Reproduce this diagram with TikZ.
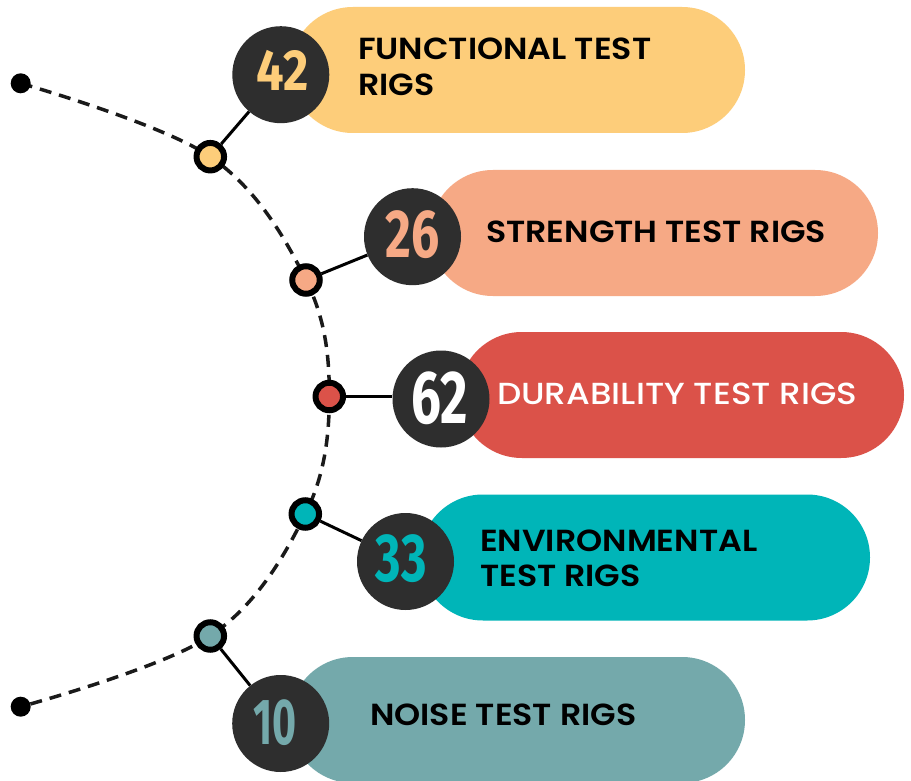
\documentclass[tikz,border=0pt]{standalone}
\usepackage{fontspec}
\newfontfamily\labf[FakeStretch=1.09]{Poppins SemiBold}
\newfontfamily\labm[FakeStretch=1.12]{Poppins Medium}
\newfontfamily\numf[FakeStretch=0.68]{Fira Sans}
\definecolor{cyel}{HTML}{FDCD7A}
\definecolor{csal}{HTML}{F6A985}
\definecolor{cred}{HTML}{DB5249}
\definecolor{cteal}{HTML}{00B5B8}
\definecolor{cnoise}{HTML}{74A9AB}
\definecolor{cdark}{HTML}{2E2E2E}
\definecolor{cline}{HTML}{1A1A1A}
\tikzset{
  pill/.style={rectangle, draw=none, inner sep=0pt, minimum width=455pt, minimum height=126pt, rounded corners=62.9pt},
  numcirc/.style={circle, fill=cdark, draw=none, inner sep=0pt, minimum size=97pt, text depth=0pt},
  marker/.style={circle, draw=black, line width=6pt, inner sep=0pt, minimum size=27.5pt},
  enddot/.style={circle, fill=black, draw=none, inner sep=0pt, minimum size=20pt},
  link/.style={draw=black, line width=3pt},
  arcline/.style={draw=cline, line width=3.5pt, dash pattern=on 12pt off 8pt},
  lab/.style={anchor=base west, inner sep=0pt, align=left, font=\labf\fontsize{30.5}{35.7}\selectfont},
  num/.style={inner sep=0pt},
}
\begin{document}
\begin{tikzpicture}[x=1pt,y=-1pt]
\useasboundingbox[fill=white] (0,0) rectangle (911,781);
% pills
\node[pill, fill=cyel]   (p1) at (517.5,70)  {};
\node[pill, fill=csal, minimum width=448pt]   (p2) at (654,233)  {};
\node[pill, fill=cred, minimum width=445pt]   (p3) at (681.5,395) {};
\node[pill, fill=cteal, minimum width=450pt]  (p4) at (645,557.5) {};
\node[pill, fill=cnoise] (p5) at (517.5,720) {};
% positions
\coordinate (s1) at (20.7,83.3);
\coordinate (a1) at (210.3,156.7);
\coordinate (a2) at (306,280);
\coordinate (a3) at (329.3,396.5);
\coordinate (a4) at (305.3,514);
\coordinate (a5) at (210.3,636);
\coordinate (s2) at (20.7,706.7);
% dashed arc
\draw[arcline] plot[smooth, tension=0.6] coordinates {(s1) (a1) (a2) (a3) (a4) (a5) (s2)};
% number circles
\node[numcirc] (c1) at (280.8,74.7) {};
\node[numcirc] (c2) at (412.5,236.7) {};
\node[numcirc] (c3) at (441,399) {};
\node[numcirc] (c4) at (405.5,561.5) {};
\node[numcirc] (c5) at (280.7,723.5) {};
% markers
\node[enddot] (d1) at (s1) {};
\node[enddot] (d2) at (s2) {};
\node[marker, fill=cyel]   (m1) at (a1) {};
\node[marker, fill=csal]   (m2) at (a2) {};
\node[marker, fill=cred]   (m3) at (a3) {};
\node[marker, fill=cteal]  (m4) at (a4) {};
\node[marker, fill=cnoise] (m5) at (a5) {};
% links
\draw[link] (m1) -- (c1);
\draw[link] (m2) -- (c2);
\draw[link] (m3) -- (c3.west |- m3);
\draw[link] (m4) -- (c4);
\draw[link] (m5) -- (c5);
% numbers
\node[num, text=cyel, font=\numf\bfseries\fontsize{58}{58}\selectfont] (n1) at (282.5,70) {\scalebox{1.24}[1]{42}};
\node[num, text=csal, font=\numf\bfseries\fontsize{68}{68}\selectfont] (n2) at (412.5,235) {\scalebox{1.08}[1]{26}};
\node[num, text=white, font=\numf\bfseries\fontsize{75}{75}\selectfont] (n3) at (440,397.8) {\scalebox{1.04}[1]{62}};
\node[num, text=cteal, font=\numf\bfseries\fontsize{68}{68}\selectfont] (n4) at (401.3,558.3) {\scalebox{1.06}[1]{33}};
\node[num, text=cnoise, font=\numf\bfseries\fontsize{65}{65}\selectfont] (n5) at (275,722.5) {\scalebox{0.93}[1]{10}};
% labels
\node[lab] (t1) at (358,95.7) {FUNCTIONAL TEST\\RIGS};
\node[lab] (t2) at (486,242) {STRENGTH TEST RIGS};
\node[lab, text=white, font=\labm\fontsize{30.5}{35.7}\selectfont] (t3) at (497,404) {DURABILITY TEST RIGS};
\node[lab] (t4) at (480,586.7) {ENVIRONMENTAL\\TEST RIGS};
\node[lab] (t5) at (370,725.7) {NOISE TEST RIGS};
\end{tikzpicture}
\end{document}
